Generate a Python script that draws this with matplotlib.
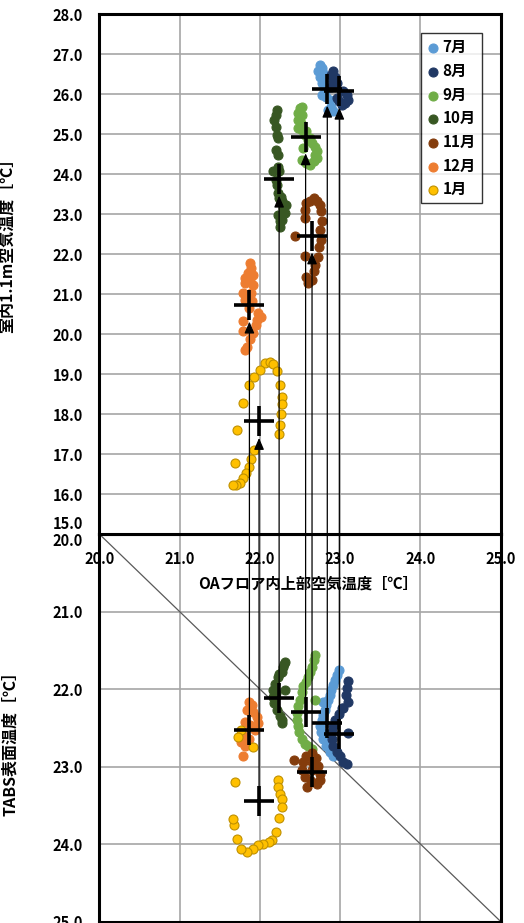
import numpy as np
import matplotlib
matplotlib.use('Agg')
import matplotlib.pyplot as plt
from matplotlib.patches import ConnectionPatch
from matplotlib.ticker import FormatStrFormatter
from matplotlib.transforms import ScaledTranslation

plt.rcParams['font.family'] = ['Noto Sans CJK JP', 'DejaVu Sans']
plt.rcParams['font.weight'] = 'bold'

# months and colours
months = ['7月', '8月', '9月', '10月', '11月', '12月', '1月']
colors = ['#5B9BD5', '#203864', '#70AD47', '#385723', '#843C0C', '#ED7D31', '#FFC000']
edges = ['#5B9BD5', '#203864', '#70AD47', '#385723', '#843C0C', '#ED7D31', '#BF9000']

# top panel: OA floor air temp vs room air temp at 1.1m
jul_air_x = [22.75, 22.77, 22.73, 22.79, 22.75, 22.81, 22.77, 22.83, 22.81, 22.83, 22.87, 22.89, 22.85, 22.91, 22.77]
jul_air_y = [26.73, 26.65, 26.57, 26.53, 26.44, 26.36, 26.28, 26.19, 26.07, 25.94, 25.86, 25.69, 25.61, 25.57, 25.98]
aug_air_x = [22.91, 22.89, 22.94, 22.91, 22.96, 22.89, 23.04, 23.08, 23.10, 23.06, 23.02, 22.98, 22.96]
aug_air_y = [26.57, 26.48, 26.44, 26.32, 26.28, 26.19, 26.07, 25.98, 25.86, 25.78, 25.73, 25.82, 25.90]
sep_air_x = [22.50, 22.52, 22.48, 22.52, 22.47, 22.51, 22.47, 22.52, 22.58, 22.62, 22.65, 22.69, 22.71, 22.69,
             22.71, 22.67, 22.62, 22.58, 22.52, 22.56, 22.60, 22.54]
sep_air_y = [25.65, 25.69, 25.53, 25.48, 25.36, 25.28, 25.15, 25.11, 25.07, 24.90, 24.78, 24.69, 24.57, 24.48,
             24.40, 24.32, 24.23, 24.28, 24.36, 24.98, 24.86, 24.66]
oct_air_x = [22.21, 22.20, 22.18, 22.20, 22.21, 22.23, 22.20, 22.23, 22.23, 22.24, 22.21, 22.23, 22.24, 22.33,
             22.29, 22.23, 22.31, 22.27, 22.25, 22.17, 22.26, 22.25, 22.28, 22.20]
oct_air_y = [25.61, 25.48, 25.36, 25.19, 24.98, 24.90, 24.61, 24.48, 24.19, 24.07, 23.73, 23.53, 23.40, 23.23,
             23.15, 22.98, 23.03, 22.86, 22.69, 24.07, 23.44, 22.82, 23.33, 23.86]
nov_air_x = [22.67, 22.62, 22.71, 22.57, 22.75, 22.56, 22.76, 22.56, 22.77, 22.75, 22.44, 22.76, 22.74, 22.56,
             22.72, 22.69, 22.67, 22.58, 22.65, 22.60]
nov_air_y = [23.40, 23.33, 23.32, 23.28, 23.23, 23.11, 23.07, 22.90, 22.82, 22.61, 22.46, 22.36, 22.19, 21.96,
             21.94, 21.73, 21.57, 21.44, 21.36, 21.28]
dec_air_x = [21.88, 21.89, 21.85, 21.92, 21.81, 21.88, 21.92, 21.81, 21.79, 21.89, 21.81, 21.90, 21.86, 21.98,
             22.01, 21.96, 21.79, 21.95, 21.79, 21.92, 21.88, 21.84, 21.81]
dec_air_y = [21.78, 21.65, 21.53, 21.48, 21.40, 21.32, 21.23, 21.28, 21.03, 21.03, 20.86, 20.82, 20.65, 20.53,
             20.44, 20.36, 20.32, 20.23, 20.07, 20.03, 19.88, 19.69, 19.61]
jan_air_x = [22.06, 22.13, 22.17, 22.00, 22.21, 21.93, 22.25, 21.86, 22.28, 22.28, 21.79, 22.26, 22.25, 22.24,
             21.72, 21.93, 21.89, 21.86, 21.69, 21.83, 21.79, 21.75, 21.70, 21.67]
jan_air_y = [19.28, 19.30, 19.26, 19.11, 19.08, 18.94, 18.72, 18.73, 18.42, 18.25, 18.28, 18.01, 17.72, 17.51,
             17.61, 17.09, 16.88, 16.67, 16.78, 16.53, 16.40, 16.28, 16.23, 16.23]

# bottom panel: OA floor air temp vs TABS surface temp
jul_tabs_x = [22.98, 22.96, 22.94, 22.91, 22.89, 22.87, 22.85, 22.83, 22.81, 22.79, 22.77, 22.75, 22.76, 22.79,
              22.83, 22.87, 22.91, 22.79]
jul_tabs_y = [21.76, 21.82, 21.88, 21.95, 22.01, 22.08, 22.14, 22.20, 22.27, 22.33, 22.40, 22.48, 22.56, 22.65,
              22.74, 22.81, 22.87, 22.17]
aug_tabs_x = [23.10, 23.09, 23.07, 23.10, 23.04, 22.98, 22.94, 22.91, 22.90, 22.90, 22.91, 22.96, 23.00, 23.04,
              23.08, 23.10, 23.02]
aug_tabs_y = [21.90, 21.99, 22.08, 22.17, 22.24, 22.32, 22.40, 22.48, 22.56, 22.65, 22.74, 22.81, 22.87, 22.94,
              22.97, 22.57, 22.24]
sep_tabs_x = [22.69, 22.67, 22.65, 22.62, 22.60, 22.58, 22.54, 22.52, 22.50, 22.48, 22.46, 22.46, 22.47, 22.49,
              22.52, 22.56, 22.60, 22.65, 22.69]
sep_tabs_y = [21.56, 21.63, 21.71, 21.78, 21.84, 21.91, 21.96, 22.04, 22.14, 22.22, 22.31, 22.40, 22.48, 22.56,
              22.65, 22.71, 22.74, 22.78, 22.14]
oct_tabs_x = [22.31, 22.29, 22.27, 22.23, 22.19, 22.17, 22.16, 22.18, 22.21, 22.25, 22.27, 22.28, 22.31, 22.30,
              22.24, 22.20]
oct_tabs_y = [21.65, 21.71, 21.78, 21.84, 21.93, 22.01, 22.10, 22.18, 22.27, 22.35, 22.40, 22.44, 22.01, 21.68,
              21.80, 22.05]
nov_tabs_x = [22.65, 22.58, 22.70, 22.54, 22.65, 22.72, 22.52, 22.65, 22.75, 22.56, 22.75, 22.71, 22.59, 22.64, 22.43]
nov_tabs_y = [22.82, 22.87, 22.89, 22.94, 22.94, 22.99, 23.04, 23.04, 23.09, 23.14, 23.17, 23.23, 23.26, 23.19, 22.91]
dec_tabs_x = [21.86, 21.90, 21.84, 21.92, 21.96, 21.81, 21.98, 21.88, 21.79, 21.94, 21.77, 21.86, 21.81, 21.79]
dec_tabs_y = [22.17, 22.20, 22.27, 22.29, 22.36, 22.42, 22.44, 22.47, 22.59, 22.53, 22.68, 22.65, 22.74, 22.87]
jan_tabs_x = [21.69, 22.22, 22.23, 22.25, 22.27, 22.27, 22.24, 22.20, 22.15, 22.11, 22.04, 21.98, 21.92, 21.84,
              21.76, 21.71, 21.68, 21.66, 21.77, 21.73, 21.92]
jan_tabs_y = [23.20, 23.17, 23.26, 23.35, 23.42, 23.52, 23.67, 23.84, 23.95, 23.98, 24.00, 24.01, 24.07, 24.10,
              24.06, 23.94, 23.75, 23.68, 22.53, 22.62, 22.75]

# monthly means (crosses)
oa_mean = [22.84, 22.99, 22.57, 22.24, 22.65, 21.87, 21.99]
air_mean = [26.13, 26.08, 24.94, 23.88, 22.46, 20.73, 17.82]
tabs_mean = [22.44, 22.58, 22.29, 22.11, 23.07, 22.53, 23.45]

# diagonal reference line
diag = [20, 25]

air_sets = [(jul_air_x, jul_air_y), (aug_air_x, aug_air_y), (sep_air_x, sep_air_y), (oct_air_x, oct_air_y),
            (nov_air_x, nov_air_y), (dec_air_x, dec_air_y), (jan_air_x, jan_air_y)]
tabs_sets = [(jul_tabs_x, jul_tabs_y), (aug_tabs_x, aug_tabs_y), (sep_tabs_x, sep_tabs_y), (oct_tabs_x, oct_tabs_y),
             (nov_tabs_x, nov_tabs_y), (dec_tabs_x, dec_tabs_y), (jan_tabs_x, jan_tabs_y)]

fig = plt.figure(figsize=(5.24, 9.23), dpi=100)
ax1 = fig.add_axes([0.1895, 0.4214, 0.766, 0.5631])
ax2 = fig.add_axes([0.1895, 0.0016, 0.766, 0.4198])
ax1.set_zorder(2)

grid_kw = dict(color='#a6a6a6', linewidth=1.2)

for i, m in enumerate(months):
    ax1.scatter(air_sets[i][0], air_sets[i][1], s=42, c=colors[i], edgecolors=edges[i],
                linewidths=0.8, label=m, zorder=3)
    ax2.scatter(tabs_sets[i][0], tabs_sets[i][1], s=42, c=colors[i], edgecolors=edges[i],
                linewidths=0.8, zorder=3)

ax1.plot(oa_mean, air_mean, linestyle='none', marker='+', ms=21, mew=2.6, color='black', zorder=5)
ax2.plot(oa_mean, tabs_mean, linestyle='none', marker='+', ms=21, mew=2.6, color='black', zorder=5)
ax2.plot(diag, diag, color='#595959', linewidth=0.9, zorder=2)

# top panel axes
ax1.set_xlim(20, 25)
ax1.set_ylim(15, 28)
ax1.set_xticks(np.arange(20, 25.1, 1))
ax1.set_yticks(np.arange(15, 28.1, 1))
ax1.xaxis.set_major_formatter(FormatStrFormatter('%.1f'))
ax1.yaxis.set_major_formatter(FormatStrFormatter('%.1f'))
ax1.tick_params(length=0, pad=12, labelsize=10.5)
ax1.grid(True, **grid_kw)
ax1.set_axisbelow(True)

# bottom panel axes
ax2.set_xlim(20, 25)
ax2.set_ylim(25, 20)
ax2.set_xticks(np.arange(20, 25.1, 1))
ax2.set_yticks(np.arange(20, 25.1, 1))
ax2.yaxis.set_major_formatter(FormatStrFormatter('%.1f'))
ax2.tick_params(length=0, pad=12, labelsize=10.5, labelbottom=False)
ax2.grid(True, **grid_kw)
ax2.set_axisbelow(True)

for ax in (ax1, ax2):
    for sp in ax.spines.values():
        sp.set_linewidth(2.2)
        sp.set_color('black')

# keep the 15.0 / 20.0 labels apart where the panels meet
lab = ax1.get_yticklabels()[0]
lab.set_transform(lab.get_transform() + ScaledTranslation(0, 0.12, fig.dpi_scale_trans))
lab = ax2.get_yticklabels()[0]
lab.set_transform(lab.get_transform() + ScaledTranslation(0, -0.05, fig.dpi_scale_trans))

ax1.set_ylabel('室内1.1m空気温度［℃］', fontsize=11.5, fontweight='bold')
ax1.yaxis.set_label_coords(-0.21, 0.563)
ax2.set_ylabel('TABS表面温度［℃］', fontsize=11.5, fontweight='bold')
ax2.yaxis.set_label_coords(-0.202, 0.47)
ax1.set_xlabel('OAフロア内上部空気温度［℃］', fontsize=11, fontweight='bold')
ax1.xaxis.set_label_coords(0.519, -0.079)

leg = ax1.legend(loc='upper left', bbox_to_anchor=(0.8014, 0.9635), fontsize=11, frameon=True,
                 fancybox=False, edgecolor='black', borderaxespad=0, handletextpad=0.2,
                 handlelength=0.8, labelspacing=0.5, borderpad=0.4, scatterpoints=1)
leg.get_frame().set_linewidth(1.0)

# arrows from TABS mean up to room air mean
for i in range(len(months)):
    con = ConnectionPatch(xyA=(oa_mean[i], tabs_mean[i]), coordsA=ax2.transData,
                          xyB=(oa_mean[i], air_mean[i]), coordsB=ax1.transData,
                          arrowstyle='-|>,head_length=0.7,head_width=0.3', mutation_scale=10,
                          color='black', linewidth=0.9, shrinkA=0, shrinkB=12)
    con.set_zorder(10)
    fig.add_artist(con)

fig.savefig('out.png', dpi=100)
